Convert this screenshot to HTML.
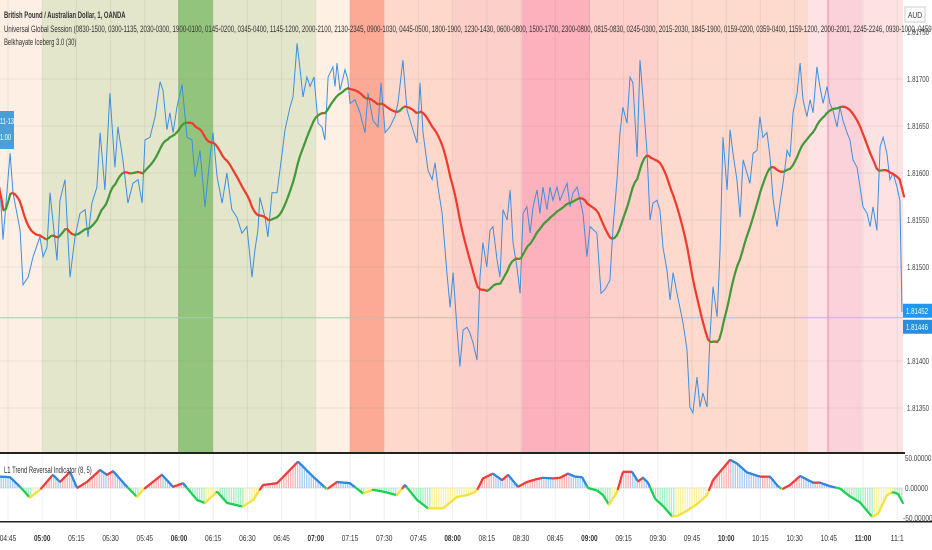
<!DOCTYPE html>
<html><head><meta charset="utf-8">
<style>
html,body{margin:0;padding:0;background:#fff;}
#wrap{position:relative;width:932px;height:550px;overflow:hidden;font-family:"Liberation Sans",sans-serif;}
svg{position:absolute;left:0;top:0;}
.hdr{position:absolute;left:4px;white-space:nowrap;font-size:9.5px;color:#333;transform:scaleX(0.62);transform-origin:0 0;}
.clip{position:absolute;left:0;top:0;width:932px;height:60px;overflow:hidden;}
</style></head>
<body>
<div id="wrap">
<svg id="chart" width="932" height="550"></svg>
<div class="clip">
<div class="hdr" style="top:10px;font-weight:bold;">British Pound / Australian Dollar, 1, OANDA</div>
<div class="hdr" style="top:24px;transform:scaleX(0.64);">Universal Global Session (0830-1500, 0300-1135, 2030-0300, 1900-0100, 0145-0200, 0345-0400, 1145-1200, 2000-2100, 2130-2345, 0900-1030, 0445-0500, 1800-1900, 1230-1430, 0600-0800, 1500-1700, 2300-0800, 0815-0830, 0245-0300, 2015-2030, 1845-1900, 0159-0200, 0359-0400, 1159-1200, 2000-2001, 2245-2246, 0930-1000, 0459-0500, 1800-1801, 1330-1345, 0700-0715, 1545-1600, 0000</div>
<div class="hdr" style="top:37px;">Belkhayate Iceberg 3.0 (30)</div>
</div>
<div class="hdr" style="top:465px;">L1 Trend Reversal Indicator (8, 5)</div>
</div>
<script>
// ---- data ----
const priceTimes=[-3.5,-2.2,0.9,2.2,5.3,6.6,8.8,11,14,15.4,17.1,18.4,21.5,22.8,25,27.2,29.4,31.6,33.8,35.1,36.8,39,40.4,42.5,44.7,46.9,48.2,50.4,52.6,54.8,57,58.8,60.1,62.3,64.5,66.7,68,69.7,71,72.4,74.1,76.3,78.5,80.7,82,84.2,86.4,88.6,89.9,91.7,93.9,96,98.2,100.4,102.6,104.8,107,108.3,109.6,110.5,112.7,114,115.8,118,120.2,121.5,123.7,125,126.8,128.1,129.4,131.1,132.5,134.2,136,137.7,139,140.4,142.5,143.4,144.3,145.6,147.8,149.1,150,152.2,154.4,156.6,157.9,160.1,162.3,163.6,165.4,167.5,169.7,171,173.2,175,177.2,179.4,180.7,182,184.2,186,187.3,188.6,190.4,192.5,193.9,195.2,196.9,198.2,199.6,201.3,202.6,204,205.7,207,208.3,210,211.4,212.7,214.5,215.8,217.1,218.9,220.2,221.5,223.2,224.6,225.9,227.6,229,230.3,232,233.3,234.6,236.4,237.7,239,240.8,242.1,243.4,245.2,246.5,247.8,249.6,250.9,252.2,253.9,255.3,258.3,260.1,261.8,264,265.4,267.1,268.4,269.7,271.5,272.8,274.1,275.9,277.2,278.5,280.3,281.6,282.9,284.6,285.9,287.3,289,290.4,291.7,293.4,294.7,296.1,297.8,299.1,300.4,302.2,303.5,304.8,306.6,307.9,309.2,311,312.3,313.6,315.4,316.7,318,319.7,321.1,322.4,324.1,325.4,326.8,328.5,329.8,331.1,332.9,334.2,335.5,337.3,338.6,339.9,341.7,343,344.3,346.1,347.4,348.7,350.4,351.8,353.1,354.8,356.1,357.5,359.2,360.5,361.8,363.6,364.9,366.2,368,369.3,370.6,372.4,373.7,375,376.8,378.1,379.4,381.1,382.5,383.8,385.5,386.8,388.2,389.9,391.2,392.1];
const closes=[1.81585,1.81529,1.81621,1.81579,1.81539,1.81481,1.81489,1.81511,1.81532,1.81511,1.81521,1.81579,1.81507,1.81571,1.81593,1.81489,1.81532,1.81557,1.81561,1.81532,1.81568,1.81585,1.81643,1.81582,1.81685,1.81606,1.81649,1.81614,1.81568,1.81589,1.81593,1.81568,1.81635,1.81638,1.81660,1.81697,1.81688,1.81646,1.81664,1.81643,1.81670,1.81694,1.81638,1.81635,1.81596,1.81624,1.81564,1.81617,1.81643,1.81596,1.81568,1.81600,1.81561,1.81553,1.81536,1.81543,1.81489,1.81518,1.81539,1.81574,1.81553,1.81532,1.81579,1.81579,1.81621,1.81646,1.81670,1.81681,1.81738,1.81710,1.81681,1.81702,1.81692,1.81702,1.81653,1.81649,1.81635,1.81702,1.81713,1.81692,1.81717,1.81688,1.81710,1.81699,1.81674,1.81678,1.81664,1.81643,1.81685,1.81656,1.81649,1.81696,1.81643,1.81649,1.81660,1.81674,1.81720,1.81667,1.81649,1.81632,1.81696,1.81643,1.81603,1.81593,1.81611,1.81585,1.81557,1.81494,1.81457,1.81494,1.81436,1.81394,1.81433,1.81436,1.81430,1.81419,1.81401,1.81489,1.81526,1.81500,1.81539,1.81543,1.81507,1.81489,1.81561,1.81550,1.81582,1.81526,1.81500,1.81472,1.81557,1.81564,1.81536,1.81564,1.81582,1.81557,1.81585,1.81561,1.81585,1.81571,1.81585,1.81571,1.81579,1.81589,1.81564,1.81579,1.81585,1.81571,1.81557,1.81511,1.81543,1.81536,1.81472,1.81476,1.81486,1.81543,1.81593,1.81643,1.81670,1.81653,1.81702,1.81696,1.81617,1.81720,1.81681,1.81621,1.81550,1.81568,1.81571,1.81561,1.81521,1.81497,1.81465,1.81494,1.81472,1.81457,1.81440,1.81412,1.81351,1.81345,1.81383,1.81351,1.81366,1.81351,1.81426,1.81479,1.81447,1.81515,1.81638,1.81582,1.81646,1.81621,1.81593,1.81553,1.81614,1.81600,1.81589,1.81621,1.81624,1.81660,1.81638,1.81643,1.81617,1.81574,1.81543,1.81568,1.81589,1.81624,1.81617,1.81664,1.81685,1.81717,1.81678,1.81660,1.81678,1.81664,1.81713,1.81692,1.81674,1.81692,1.81674,1.81667,1.81649,1.81670,1.81656,1.81643,1.81635,1.81614,1.81606,1.81585,1.81564,1.81557,1.81543,1.81564,1.81539,1.81628,1.81638,1.81621,1.81593,1.81600,1.81585,1.81571,1.81452];
const oscTimes=[-3.5,0.9,5.3,9.6,14,19.7,22.8,27.2,30.3,34.6,40.4,43.4,46.1,52.2,56.6,59.2,67.5,72.4,76.8,82.9,86.4,91.7,96.1,103.1,107.5,111.8,118,127.2,133.8,139.9,144.3,150,155.7,160.1,164.5,170.6,174.1,179.4,184.2,190.8,196.9,201.3,204.8,206.1,208.3,212.7,216.7,219.3,223.7,227.6,232,234.6,239,242.1,245.6,248.7,251.8,254.4,258.3,261,263.6,267.1,269.7,273.7,276.3,278.5,280.7,283.8,287.3,291.2,293.4,297.8,302.2,306.6,309.2,313.6,316.7,319.7,324.1,329.8,334.2,337.7,339.5,343,347.4,353.1,356.1,360.5,364.9,369.3,373.7,379,381.6,385.5,388.2,390.4,392.5];
const oscValues=[19,18,2,-16,-3,22,10,27,0,10,30,22,28,2,-15,-3,22,2,8,-20,-25,-6,-25,-31,-20,5,8,44,19,-2,10,8,-9,-3,-6,-12,5,-20,-34,-34,-15,-12,-7,-1,16,24,13,22,2,10,15,17,16,17,24,19,18,0,-4,-12,-28,-7,27,27,11,17,9,-18,-30,-47,-47,-38,-27,-12,13,33,47,41,26,19,19,3,-2,5,20,9,9,3,-1,-14,-24,-48,-43,-12,-7,-10,-25];
const priceTicks=[1.8175,1.817,1.8165,1.816,1.8155,1.815,1.814,1.8135];
const oscTicks=[50,0,-50];
const timeLabels=["04:45","05:00","05:15","05:30","05:45","06:00","06:15","06:30","06:45","07:00","07:15","07:30","07:45","08:00","08:15","08:30","08:45","09:00","09:15","09:30","09:45","10:00","10:15","10:30","10:45","11:00","11:1"];
const sessionStarts=[-10,15,74.6,89.9,135,149.9,164.9,195.2,225.4,255.3,285.5,350.9,359.6,374.6];
const sessionEnds=[15,74.6,89.9,135,149.9,164.9,195.2,225.4,255.3,285.5,350.9,359.6,374.6,400];
const sessionColors=["#fdefe3","#e3e6ca","#93c47d","#e3e6ca","#fef0e2","#fcaa96","#fed8cb","#fdcfc9","#fdb1bc","#fdd0cb","#fddacd","#fde3e3","#fcd2da","#fde2e2"];
const lastPrice=1.81452, linePrice=1.81446;

// ---- scales ----
const X0=8, PXMIN=2.28, PLOT_R=903;
const xs=t=>X0+t*PXMIN;
const ys=p=>267-(p-1.815)/0.0005*47;
const yo=v=>488-v*0.6;
const NS="http://www.w3.org/2000/svg";
const FONT='"Liberation Sans",sans-serif';
const svg=document.getElementById('chart');
function mk(tag,attrs,parent){const e=document.createElementNS(NS,tag);for(const k in attrs)e.setAttribute(k,attrs[k]);(parent||svg).appendChild(e);return e;}
function interp(ts,vs,t){if(t<=ts[0])return vs[0];for(let i=1;i<ts.length;i++){if(t<=ts[i]){const f=(t-ts[i-1])/(ts[i]-ts[i-1]);return vs[i-1]+f*(vs[i]-vs[i-1]);}}return vs[vs.length-1];}

// sessions
const gS=mk('g',{});


sessionStarts.forEach((s,i)=>{
  const x1=Math.max(0,xs(s)), x2=Math.min(PLOT_R,xs(sessionEnds[i]));
  const r=mk('rect',{x:x1,y:0,width:x2-x1,height:452,fill:sessionColors[i]},gS);
  
  
});
const vline=mk('rect',{x:xs(359.6)-1,y:0,width:2,height:452,fill:'#f7b5c6'});



// grid
const gG=mk('g',{stroke:'rgba(120,120,120,0.12)','stroke-width':1});


priceTicks.forEach(p=>{mk('line',{x1:0,x2:PLOT_R,y1:ys(p),y2:ys(p)},gG);});
timeLabels.forEach((l,i)=>{const x=xs(i*15);mk('line',{x1:x,x2:x,y1:0,y2:452},gG);mk('line',{x1:x,x2:x,y1:454,y2:520},gG);});

// last price line
const pl=mk('line',{x1:0,x2:PLOT_R,y1:ys(linePrice),y2:ys(linePrice),stroke:'#9fc3ea','stroke-width':1});



// price series
let d='';priceTimes.forEach((t,i)=>{d+=(i?'L':'M')+xs(t).toFixed(1)+' '+ys(closes[i]).toFixed(1);});
const ps=mk('path',{d:d,fill:'none',stroke:'#3d8fe0','stroke-width':1});



// iceberg MA (weighted MA over 30 minutes of resampled closes)
const minute=[];for(let t=-4;t<=393;t++)minute.push({t:t,p:interp(priceTimes,closes,t)});
const ma=minute.map((m,i)=>{let sw=0,sv=0;for(let k=0;k<30&&i-k>=0;k++){const w=30-k;sw+=w;sv+=w*minute[i-k].p;}return {t:m.t,v:sv/sw};});
const gM=mk('g',{'stroke-width':2.2,fill:'none','stroke-linecap':'round'});


for(let i=1;i<ma.length;i++){
  const up=ma[i].v>=ma[i-1].v;
  mk('line',{x1:xs(ma[i-1].t),y1:ys(ma[i-1].v),x2:xs(ma[i].t),y2:ys(ma[i].v),stroke:up?'#43993a':'#ef3b2c'},gM);
}

// panes separators
const sep=mk('rect',{x:0,y:452,width:PLOT_R+2,height:2,fill:'#222'});


const tb=mk('rect',{x:0,y:521,width:932,height:1.5,fill:'#222'});



// oscillator
const gO=mk('g',{});


mk('line',{x1:0,x2:PLOT_R,y1:yo(0),y2:yo(0),stroke:'#ddd','stroke-width':1},gO);
function oscCol(v,prev,light){
  const up=v>=prev;
  if(v>=0)return up?(light?'#f6b5b5':'#f03c3c'):(light?'#a9cdf2':'#2f86e0');
  return up?(light?'#fbf2a2':'#f2e23a'):(light?'#a7efc4':'#1ccf55');
}
for(let t=-3;t<=392;t++){
  const v=interp(oscTimes,oscValues,t), pv=interp(oscTimes,oscValues,t-1);
  mk('line',{x1:xs(t),x2:xs(t),y1:yo(0),y2:yo(v),stroke:oscCol(v,pv,true),'stroke-width':1.3},gO);
}
for(let t=-3.5;t<392.5;t+=0.5){
  const v1=interp(oscTimes,oscValues,t), v2=interp(oscTimes,oscValues,t+0.5);
  mk('line',{x1:xs(t),x2:xs(t+0.5),y1:yo(v1),y2:yo(v2),stroke:oscCol(v2,v1,false),'stroke-width':2.2,'stroke-linecap':'round'},gO);
}

// right axis labels
const gA=mk('g',{'font-family':FONT,'font-size':8.5,fill:'#444'});


priceTicks.forEach(p=>{const t=mk('text',{x:907,y:ys(p)+3,textLength:22,lengthAdjust:'spacingAndGlyphs'},gA);t.textContent=p.toFixed(5);});
oscTicks.forEach(v=>{const s=v.toFixed(5);const t=mk('text',{x:v<0?903:905,y:yo(v)+3,textLength:s.length*3.3,lengthAdjust:'spacingAndGlyphs'},gA);t.textContent=s;});
// price badges
[[lastPrice,-7],[linePrice,9]].forEach(([p,off],i)=>{
  const yy=ys(linePrice)+off;
  const r=mk('rect',{x:903,y:yy-7,width:29,height:14,fill:i?'#2a8de0':'#2196f3'});
  
  
  const t=mk('text',{x:906,y:yy+3,fill:'#fff','font-size':8.5,'font-family':FONT,textLength:22,lengthAdjust:'spacingAndGlyphs'});
  t.textContent=p.toFixed(5);
});
// AUD box
const ab=mk('rect',{x:905,y:7,width:20,height:15,fill:'#fff',stroke:'#ccc'});


const at=mk('text',{x:908,y:18,'font-size':8.5,fill:'#333','font-family':FONT,textLength:14,lengthAdjust:'spacingAndGlyphs'});at.textContent='AUD';

// left date badge
const lb=mk('rect',{x:-4,y:111,width:18,height:38,fill:'#4b9fd5'});


const l1=mk('text',{x:0,y:124,'font-size':8.5,fill:'#fff','font-family':FONT,textLength:14,lengthAdjust:'spacingAndGlyphs'});l1.textContent='11-13';
const l2=mk('text',{x:0,y:140,'font-size':8.5,fill:'#fff','font-family':FONT,textLength:11,lengthAdjust:'spacingAndGlyphs'});l2.textContent='1:00';

// time axis
const gT=mk('g',{'font-family':FONT,'font-size':8.5,fill:'#333','text-anchor':'middle'});


timeLabels.forEach((l,i)=>{const t=mk('text',{x:xs(i*15),y:541,textLength:l.length*3.3,lengthAdjust:'spacingAndGlyphs'},gT);if(l.endsWith(':00'))t.setAttribute('font-weight','bold');t.textContent=l;});
</script>
</body></html>
